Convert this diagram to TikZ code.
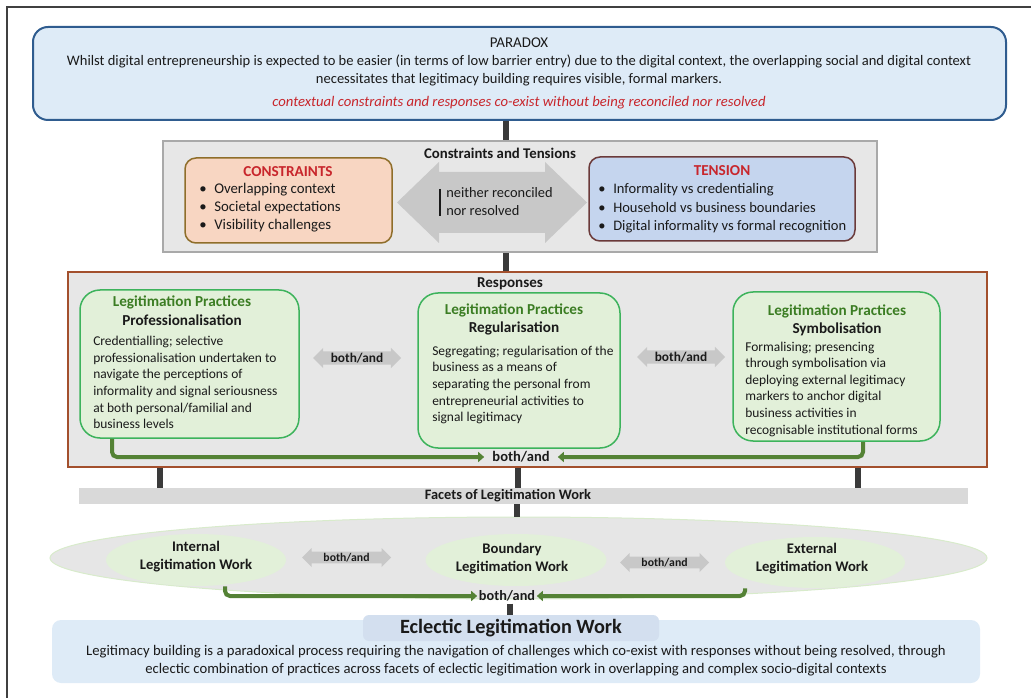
\documentclass[tikz,border=0pt]{standalone}
\usepackage{fontspec}
\setmainfont{Carlito}
\usetikzlibrary{shapes.arrows,shapes.geometric,arrows.meta}
\newdimen\pxu \pxu=0.75pt
\newcommand\myfs[2]{\fontsize{#1}{#2}\selectfont}
\newcommand\bul{\makebox[15\pxu][l]{\textbullet}}
\definecolor{txt}{HTML}{1A1A1A}
\definecolor{framec}{HTML}{404040}
\definecolor{parafill}{HTML}{DEEBF7}
\definecolor{paraborder}{HTML}{2F5C8F}
\definecolor{redc}{HTML}{C8262C}
\definecolor{ctfill}{HTML}{E7E7E7}
\definecolor{ctborder}{HTML}{A9A9A9}
\definecolor{consfill}{HTML}{F8D6C2}
\definecolor{consborder}{HTML}{8F6E2A}
\definecolor{tensfill}{HTML}{C5D5EE}
\definecolor{tensborder}{HTML}{6B3A3A}
\definecolor{arrowc}{HTML}{C8C8C8}
\definecolor{respborder}{HTML}{A3502D}
\definecolor{gfill}{HTML}{E2F0D9}
\definecolor{gborder}{HTML}{3DB35C}
\definecolor{gtitle}{HTML}{3B7D23}
\definecolor{garrowc}{HTML}{548235}
\definecolor{connc}{HTML}{3A3A3A}
\definecolor{facetfill}{HTML}{D9D9D9}
\definecolor{ellfill}{HTML}{E6E6E6}
\definecolor{ellborder}{HTML}{D8EBCB}
\definecolor{eclfill}{HTML}{DEEBF7}
\definecolor{ecltfill}{HTML}{D3DFEF}
\tikzset{
  conn/.style={line width=6\pxu, draw=connc},
  garrow/.style={line width=4\pxu, draw=garrowc, rounded corners=5\pxu, -{Triangle[length=4.5pt,width=7.5pt]}},
  gbox/.style={draw=gborder, fill=gfill, line width=1.5\pxu, rounded corners=20\pxu},
  gtit/.style={font=\bfseries\myfs{11.4}{13}, text=gtitle},
  gsub/.style={font=\bfseries\myfs{11.4}{13}},
  gbody/.style={anchor=west, align=left, font=\myfs{10.1}{12.45}},
  smallarrow/.style={double arrow, fill=arrowc, double arrow head extend=3.5\pxu, inner xsep=2pt, inner ysep=1pt},
  lbl/.style={font=\bfseries\myfs{11.1}{13}},
}
\begin{document}
\begin{tikzpicture}[x=0.75pt,y=-0.75pt,
  every node/.style={inner sep=0pt, text=txt, font=\myfs{10.9}{13.5}}]
\useasboundingbox (0,0) rectangle (1031,698);
% frame
\draw[line width=1.3\pxu, framec] (7,698) -- (7,7) -- (1031,7);

% x positions of connectors
\coordinate (x1) at (506,0);
\coordinate (x3) at (160,0);
\coordinate (x4) at (518,0);
\coordinate (x5) at (858,0);
\coordinate (x6) at (517,0);
\coordinate (x7) at (510,0);
\coordinate (gx1) at (112,0);
\coordinate (gx2) at (863,0);
\coordinate (gx3) at (225,0);
\coordinate (gx4) at (745,0);

% ---------- paradox
\node[draw=paraborder, fill=parafill, line width=2\pxu, rounded corners=15\pxu,
      minimum width=973\pxu, minimum height=93\pxu] (paradox) at (519.5,73.5) {};
\node[font=\myfs{11.2}{13.5}] (paratitle) at (519,43) {PARADOX};
\node[align=center] (paratext) at (519,70)
  {Whilst digital entrepreneurship is expected to be easier (in terms of low barrier entry) due to the digital context, the overlapping social and digital context\\
   necessitates that legitimacy building requires visible, formal markers.};
\node[font=\myfs{11}{13.5}\itshape, text=redc] (paraitalic) at (519,103)
  {contextual constraints and responses co-exist without being reconciled nor resolved};

% ---------- constraints and tensions
\node[draw=ctborder, fill=ctfill, line width=2\pxu,
      minimum width=714\pxu, minimum height=111\pxu] (ct) at (520,196.5) {};
\draw[conn] (paradox.south -| x1) -- (ct.north -| x1);
\node[lbl] (cttitle) at (500,153) {Constraints and Tensions};

\node[draw=consborder, fill=consfill, line width=1.5\pxu, rounded corners=11\pxu,
      minimum width=207\pxu, minimum height=85\pxu] (cons) at (288.5,200.5) {};
\node[text=redc, font=\bfseries\myfs{11.4}{13}] (constitle) at (288,172) {CONSTRAINTS};
\node[anchor=west, align=left, font=\myfs{11.1}{13.5}] (conslist) at (199,208)
  {\bul Overlapping context\\ \bul Societal expectations\\ \bul Visibility challenges};

\node[draw=tensborder, fill=tensfill, line width=1.5\pxu, rounded corners=11\pxu,
      minimum width=266\pxu, minimum height=84\pxu] (tens) at (722,199) {};
\node[text=redc, font=\bfseries\myfs{11.4}{13}] (tenstitle) at (722,171) {TENSION};
\node[anchor=west, align=left, font=\myfs{10.9}{13.9}] (tenslist) at (598,208.5)
  {\bul Informality vs credentialing\\ \bul Household vs business boundaries\\ \bul Digital informality vs formal recognition};

% big double arrow between constraints and tension
\fill[arrowc] (397,202.5) -- (439,162) -- (439,172) -- (545,172) -- (545,162) -- (587,202.5)
  -- (545,243) -- (545,233) -- (439,233) -- (439,243) -- cycle;
\draw[line width=2\pxu, txt] (440,189) -- (440,216);
\node[anchor=west, align=left, font=\myfs{10.8}{13.5}] (neither) at (446,202)
  {neither reconciled\\nor resolved};

% ---------- responses
\node[draw=respborder, fill=ctfill, line width=2\pxu,
      minimum width=919\pxu, minimum height=195\pxu] (resp) at (527.5,369.5) {};
\draw[conn] (ct.south -| x1) -- (resp.north -| x1);
\node[lbl, font=\bfseries\myfs{11.3}{13}] (resptitle) at (510,284) {Responses};

\node[gbox, minimum width=219\pxu, minimum height=148\pxu] (g1) at (189.5,364) {};
\node[gtit] at (182,302) {Legitimation Practices};
\node[gsub] at (182,320) {Professionalisation};
\node[gbody] (g1body) at (93,382.5)
  {Credentialling; selective\\professionalisation undertaken to\\navigate the perceptions of\\informality and signal seriousness\\at both personal/familial and\\business levels};

\node[gbox, minimum width=202\pxu, minimum height=155\pxu] (g2) at (519,370.5) {};
\node[gtit] at (514,310) {Legitimation Practices};
\node[gsub] at (514,328) {Regularisation};
\node[gbody] (g2body) at (432,385)
  {Segregating; regularisation of the\\business as a means of\\separating the personal from\\entrepreneurial activities to\\signal legitimacy};

\node[gbox, minimum width=207\pxu, minimum height=149\pxu] (g3) at (836.5,366.5) {};
\node[gtit] at (837,311) {Legitimation Practices};
\node[gsub] at (837,329) {Symbolisation};
\node[gbody] (g3body) at (745,389)
  {Formalising; presencing\\through symbolisation via\\deploying external legitimacy\\markers to anchor digital\\business activities in\\recognisable institutional forms};

\node[smallarrow, minimum height=88\pxu, minimum width=20\pxu, font=\bfseries\myfs{10}{11}] (sa1) at (357,358) {both/and};
\node[smallarrow, minimum height=88\pxu, minimum width=20\pxu, font=\bfseries\myfs{10}{11}] (sa2) at (681,357) {both/and};

\node[font=\bfseries\myfs{10.9}{13}, inner xsep=8\pxu] (ba1) at (521,457) {both/and};
\draw[garrow] (g1.south -| gx1) |- (ba1.west);
\draw[garrow] (g3.south -| gx2) |- (ba1.east);

% ---------- facets
\node[fill=facetfill, minimum width=889\pxu, minimum height=16\pxu] (facets) at (523.5,496) {};
\node[font=\bfseries\myfs{10.8}{13}] (facetstitle) at (508,496) {Facets of Legitimation Work};
\draw[conn] (resp.south -| x3) -- (facets.north -| x3);
\draw[conn] (resp.south -| x4) -- (facets.north -| x4);
\draw[conn] (resp.south -| x5) -- (facets.north -| x5);

% ---------- ellipse
\node[ellipse, fill=ellfill, draw=ellborder, line width=1\pxu,
      minimum width=937\pxu, minimum height=82\pxu] (bigell) at (518.5,558) {};
\draw[conn] (facets.south -| x6) -- (bigell.north -| x6);
\node[ellipse, fill=gfill, minimum width=180\pxu, minimum height=52\pxu] (e1) at (196,560) {};
\node[ellipse, fill=gfill, minimum width=181\pxu, minimum height=52\pxu] (e2) at (516,560) {};
\node[ellipse, fill=gfill, minimum width=180\pxu, minimum height=51\pxu] (e3) at (815,562.5) {};
\node[align=center, font=\bfseries\myfs{11}{13.5}] (e1t) at (196,557) {Internal\\Legitimation Work};
\node[align=center, font=\bfseries\myfs{11}{13.5}] (e2t) at (512,559) {Boundary\\Legitimation Work};
\node[align=center, font=\bfseries\myfs{11}{13.5}] (e3t) at (812,559) {External\\Legitimation Work};

\node[smallarrow, minimum height=89\pxu, minimum width=19\pxu, font=\bfseries\myfs{8.8}{10}] (sa3) at (346.5,557.5) {both/and};
\node[smallarrow, minimum height=89\pxu, minimum width=19\pxu, font=\bfseries\myfs{8.8}{10}] (sa4) at (664.5,562.5) {both/and};

\node[font=\bfseries\myfs{10.7}{13}, inner xsep=1.5\pxu] (ba2) at (507,596) {both/and};
\draw[garrow] (e1.south -| gx3) |- (ba2.west);
\draw[garrow] (e3.south -| gx4) |- (ba2.east);

% ---------- eclectic
\node[fill=eclfill, rounded corners=9\pxu, minimum width=928\pxu, minimum height=63\pxu] (ecl) at (516,651.5) {};
\node[fill=ecltfill, rounded corners=6\pxu, minimum width=296\pxu, minimum height=26\pxu] (eclt) at (511,628) {};
\draw[conn] ([yshift=-2\pxu]ba2.south -| x7) -- (eclt.north -| x7);
\node[font=\bfseries\myfs{15.2}{17}] (eclttext) at (511,628) {Eclectic Legitimation Work};
\node[align=center, font=\myfs{11}{13.5}] (ecltext) at (516,661)
  {Legitimacy building is a paradoxical process requiring the navigation of challenges which co-exist with responses without being resolved, through\\
   eclectic combination of practices across facets of eclectic legitimation work in overlapping and complex socio-digital contexts};
\end{tikzpicture}
\end{document}
